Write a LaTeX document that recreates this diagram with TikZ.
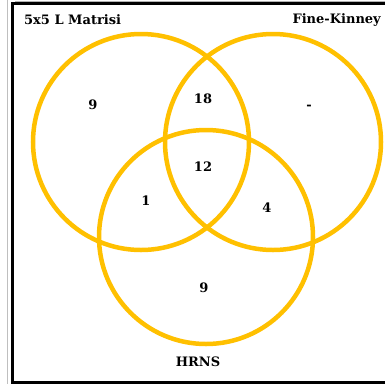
\documentclass[tikz,border=0pt]{standalone}
\usepackage{fontspec}
\setmainfont{DejaVu Serif}
\begin{document}
\begin{tikzpicture}[x=1pt,y=-1pt,
  ring/.style={draw=ringc,line width=4.5pt},
  lbl/.style={font=\bfseries\fontsize{13}{15}\selectfont,text=black,inner sep=0pt},
  num/.style={font=\bfseries\fontsize{13}{15}\selectfont,text=black,inner sep=0pt}]
\definecolor{ringc}{HTML}{FFC000}
\useasboundingbox (0,0) rectangle (385,384);
\fill[white] (0,0) rectangle (385,384);
% frame
\draw[gray!50,line width=1pt] (7,0) -- (7,384);
\draw[black,line width=3pt] (385,3.5) -- (12.5,3.5) -- (12.5,382) -- (385,382);
\draw[gray!60,line width=0.8pt] (385,1.3) -- (14.5,1.3);
% circles
\draw[ring] (141,142) circle[radius=108];
\draw[ring] (273,142) circle[radius=108];
\draw[ring] (206,237) circle[radius=107];
% labels
\node[lbl,anchor=west] (a) at (24,20) {5x5 L Matrisi};
\node[lbl,anchor=east] (b) at (381,20) {Fine-Kinney};
\node[lbl] (c) at (198,362) {HRNS};
% numbers
\node[num] (n1) at (93,105) {9};
\node[num] (n2) at (203,99) {18};
\node[num] (n3) at (309,107) {-};
\node[num] (n4) at (203,167) {12};
\node[num] (n5) at (146,201) {1};
\node[num] (n6) at (267,208) {4};
\node[num] (n7) at (204,288) {9};
\end{tikzpicture}
\end{document}
